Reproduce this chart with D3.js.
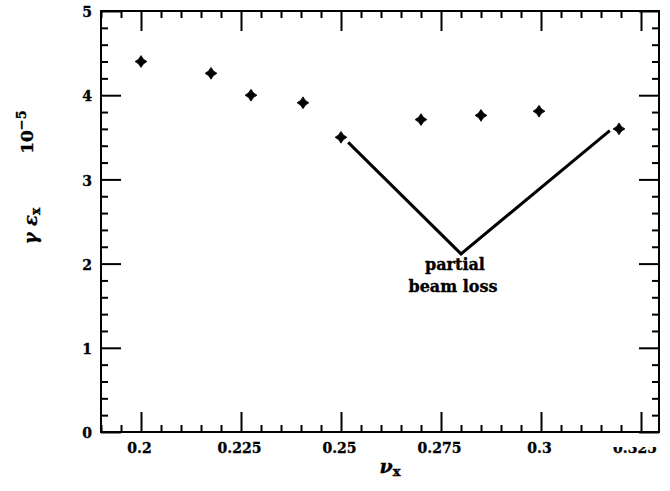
<!DOCTYPE html>
<html><head><meta charset="utf-8">
<script src="https://cdn.jsdelivr.net/npm/d3@7"></script>
<style>
html,body{margin:0;padding:0;background:#fff;}
svg{display:block;}
text{font-family:"DejaVu Serif",serif;font-weight:bold;fill:#000;stroke:#000;stroke-width:0.35px;}
</style></head>
<body>
<svg id="c" width="670" height="491"></svg>
<script>
// data
const nuX   = [0.2, 0.2175, 0.2275, 0.2405, 0.25, 0.27, 0.285, 0.2995, 0.3195];
const emitX = [4.4, 4.26, 4.0, 3.91, 3.5, 3.71, 3.76, 3.81, 3.6];
const xTicks = [0.2, 0.225, 0.25, 0.275, 0.3, 0.325];
const xTickLabels = ["0.2", "0.225", "0.25", "0.275", "0.3", "0.325"];
const yTicks = [0, 1, 2, 3, 4, 5];
const annotX = [0.2518, 0.28, 0.3172];
const annotY = [3.44, 2.115, 3.58];
const annotText = ["partial", "beam loss"];

const svg = d3.select("#c");
const L = 101, R = 659, T = 11, B = 432;
const x = d3.scaleLinear().domain([0.19, 0.3295]).range([L, R]);
const y = d3.scaleLinear().domain([0, 5]).range([B, T]);

const minorX = d3.range(0, 29).map(i => +(0.19 + i * 0.005).toFixed(3)).filter(v => v < 0.3295 && !xTicks.some(t => Math.abs(t - v) < 1e-6));
const minorY = d3.range(0, 26).map(i => +(i * 0.2).toFixed(2)).filter(v => v > 0 && v < 5 && !yTicks.some(t => Math.abs(t - v) < 1e-6));

function styleAxis(g){
  g.select(".domain").remove();
  g.selectAll(".tick line").attr("stroke", "#000").attr("stroke-width", 2);
}

// bottom
svg.append("g").attr("transform", `translate(0,${B})`)
  .call(d3.axisBottom(x).tickValues(xTicks).tickSize(-20).tickPadding(11)
    .tickFormat((d, i) => xTickLabels[i]))
  .call(styleAxis)
  .call(g => g.selectAll("text").attr("font-size", 14).attr("font-family", "DejaVu Serif").attr("font-weight", "bold").attr("dx", -2));
svg.append("g").attr("transform", `translate(0,${B})`)
  .call(d3.axisBottom(x).tickValues(minorX).tickSize(-7).tickFormat(""))
  .call(styleAxis);
// top
svg.append("g").attr("transform", `translate(0,${T})`)
  .call(d3.axisTop(x).tickValues(xTicks.filter(v => v < 0.3295)).tickSize(-20).tickFormat(""))
  .call(styleAxis);
svg.append("g").attr("transform", `translate(0,${T})`)
  .call(d3.axisTop(x).tickValues(minorX).tickSize(-7).tickFormat(""))
  .call(styleAxis);
// left
svg.append("g").attr("transform", `translate(${L},0)`)
  .call(d3.axisLeft(y).tickValues(yTicks).tickSize(-20).tickPadding(9).tickFormat(d3.format("d")))
  .call(styleAxis)
  .call(g => g.selectAll("text").attr("font-size", 14).attr("font-family", "DejaVu Serif").attr("font-weight", "bold").attr("dy", "0.4em"));
svg.append("g").attr("transform", `translate(${L},0)`)
  .call(d3.axisLeft(y).tickValues(minorY).tickSize(-7).tickFormat(""))
  .call(styleAxis);
// right
svg.append("g").attr("transform", `translate(${R},0)`)
  .call(d3.axisRight(y).tickValues(yTicks).tickSize(-20).tickFormat(""))
  .call(styleAxis);
svg.append("g").attr("transform", `translate(${R},0)`)
  .call(d3.axisRight(y).tickValues(minorY).tickSize(-7).tickFormat(""))
  .call(styleAxis);

// last x tick label is only partly visible in the original
const defs = svg.append("defs");
defs.append("clipPath").attr("id", "cutlab").append("rect")
  .attr("x", x(0.3) + 30).attr("y", 447).attr("width", 200).attr("height", 40);
svg.selectAll("g.tick text").filter((d) => Math.abs(d - 0.325) < 1e-6).remove();
svg.append("text").attr("x", x(0.325) - 6).attr("y", 453)
  .attr("text-anchor", "middle").attr("font-size", 14)
  .attr("clip-path", "url(#cutlab)").text(xTickLabels[5]);

// frame
svg.append("rect").attr("x", L).attr("y", T).attr("width", R - L).attr("height", B - T)
  .attr("fill", "none").attr("stroke", "#000").attr("stroke-width", 2);

// 4-point star marker
const star4 = {
  draw(ctx, size){
    const r = Math.sqrt(size) / 2, s = r * 0.4;
    ctx.moveTo(0, -r);
    ctx.lineTo(s, -s);
    ctx.lineTo(r, 0);
    ctx.lineTo(s, s);
    ctx.lineTo(0, r);
    ctx.lineTo(-s, s);
    ctx.lineTo(-r, 0);
    ctx.lineTo(-s, -s);
    ctx.closePath();
  }
};
const sym = d3.symbol().type(star4).size(140);
svg.append("g").selectAll("path").data(nuX).join("path")
  .attr("transform", (d, i) => `translate(${x(d)},${y(emitX[i])})`)
  .attr("d", sym).attr("fill", "#000").attr("stroke", "#000").attr("stroke-width", 0.8);

// annotation V
const line = d3.line().x((d, i) => x(d)).y((d, i) => y(annotY[i]));
svg.append("path").attr("d", line(annotX)).attr("fill", "none")
  .attr("stroke", "#000").attr("stroke-width", 3).attr("stroke-linejoin", "miter");
svg.append("text").attr("x", x(annotX[1]) - 6).attr("y", y(annotY[1]) + 16)
  .attr("text-anchor", "middle").attr("font-size", 16).text(annotText[0]);
svg.append("text").attr("x", x(annotX[1]) - 8).attr("y", y(annotY[1]) + 38)
  .attr("text-anchor", "middle").attr("font-size", 16).text(annotText[1]);

// axis titles
const xt = svg.append("text").attr("x", 390).attr("y", 473).attr("text-anchor", "middle").attr("font-size", 19);
xt.append("tspan").attr("font-style", "italic").text("ν");
xt.append("tspan").attr("font-size", 13).attr("dy", 3).text("x");

const yt = svg.append("text").attr("transform", "translate(37,226) rotate(-90)").attr("text-anchor", "middle").attr("font-size", 18);
yt.append("tspan").attr("font-style", "italic").text("γ ε");
yt.append("tspan").attr("font-size", 12).attr("dy", 3).text("x");

const ye = svg.append("text").attr("transform", "translate(33,132) rotate(-90)").attr("text-anchor", "middle").attr("font-size", 17);
ye.append("tspan").text("10");
ye.append("tspan").attr("font-size", 13).attr("dy", -7).text("−5");
</script>
</body></html>
